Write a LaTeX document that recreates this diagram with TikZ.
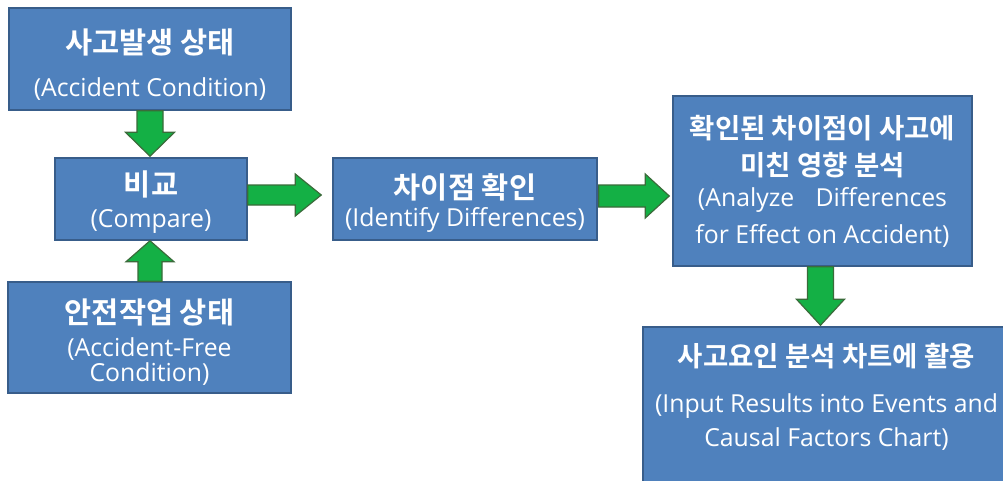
\documentclass[tikz,border=0pt]{standalone}
\usepackage{fontspec}
\usetikzlibrary{calc}
\newfontfamily\kr{Noto Sans CJK KR}[BoldFont=* Bold]
\newfontfamily\en{Open Sans}
\definecolor{boxfill}{HTML}{4F81BD}
\definecolor{boxline}{HTML}{385D8A}
\definecolor{arrowfill}{HTML}{14B045}
\definecolor{arrowline}{HTML}{3A6B3A}
\begin{document}
\begin{tikzpicture}[x=1pt,y=-1pt,
  box/.style={draw=boxline, line width=1.5pt, fill=boxfill, inner sep=0pt},
  kor/.style={text=white, font=\kr\bfseries\fontsize{29.5}{34}\selectfont, anchor=base, inner sep=0pt},
  kors/.style={kor, font=\kr\bfseries\fontsize{27.5}{32}\selectfont},
  eng/.style={text=white, font=\en\fontsize{24.8}{29}\selectfont, anchor=base, inner sep=0pt},
  garrow/.style={fill=arrowfill, draw=arrowline, line width=1.2pt, line join=miter}]
\clip (0,0) rectangle (1003,480);
\fill[white] (0,0) rectangle (1003,480);

% boxes
\node[box, minimum width=282pt, minimum height=102pt] (b1) at (150,59) {};
\node[box, minimum width=192pt, minimum height=82pt]  (b2) at (151,199) {};
\node[box, minimum width=283pt, minimum height=111pt] (b3) at (149.5,337.5) {};
\node[box, minimum width=264pt, minimum height=82pt]  (b4) at (465,199) {};
\node[box, minimum width=299pt, minimum height=170pt] (b5) at (822.5,181) {};
\node[box, minimum width=367pt, minimum height=180pt] (b6) at (826.5,417) {};

% labels
\node[kor] (t1a) at ($(b1.north)+(0,46)$) {사고발생 상태};
\node[eng] (t1b) at ($(b1.north)+(0,89)$) {(Accident Condition)};

\node[kor] (t2a) at ($(b2.north)+(0,38)$) {비교};
\node[eng] (t2b) at ($(b2.north)+(0,70)$) {(Compare)};

\node[kor] (t3a) at ($(b3.north)+(0,42)$) {안전작업 상태};
\node[eng] (t3b) at ($(b3.north)+(0,75)$) {(Accident-Free};
\node[eng] (t3c) at ($(b3.north)+(0,100)$) {Condition)};

\node[kor] (t4a) at ($(b4.north)+(0,41)$) {차이점 확인};
\node[eng] (t4b) at ($(b4.north)+(0,69)$) {(Identify Differences)};

\node[kors] (t5a) at ($(b5.north)+(0,43)$) {확인된 차이점이 사고에};
\node[kors] (t5b) at ($(b5.north)+(0,80)$) {미친 영향 분석};
\node[eng] (t5c) at ($(b5.north)+(0,111)$) {(Analyze\hspace{0.6em} Differences};
\node[eng] (t5d) at ($(b5.north)+(0,148)$) {for Effect on Accident)};

\node[kors] (t6a) at ($(b6.north)+(0,40)$) {사고요인 분석 차트에 활용};
\node[eng] (t6b) at ($(b6.north)+(0,86)$) {(Input Results into Events and};
\node[eng] (t6c) at ($(b6.north)+(0,120)$) {Causal Factors Chart)};

% block arrows
% accident condition -> compare
\coordinate (a1s) at (b1.south);
\coordinate (a1t) at ($(b1.south |- b2.north)+(0,-1)$);
\draw[garrow] ($(a1s)+(-13,0)$) -- ($(a1t)+(-13,-24)$) -- ($(a1t)+(-24.5,-24)$) -- (a1t)
  -- ($(a1t)+(24.5,-24)$) -- ($(a1t)+(13,-24)$) -- ($(a1s)+(13,0)$) -- cycle;

% accident-free condition -> compare
\coordinate (a2s) at ($(b3.north)+(0.5,0)$);
\coordinate (a2t) at ($(b3.north |- b2.south)+(0.5,0)$);
\draw[garrow] ($(a2s)+(-12,0)$) -- ($(a2t)+(-12,21)$) -- ($(a2t)+(-24,21)$) -- (a2t)
  -- ($(a2t)+(24,21)$) -- ($(a2t)+(12,21)$) -- ($(a2s)+(12,0)$) -- cycle;

% compare -> identify differences
\coordinate (a3s) at ($(b2.east)+(0,-4)$);
\coordinate (a3t) at ($(b4.west |- a3s)+(-11,0)$);
\draw[garrow] ($(a3s)+(0,-10)$) -- ($(a3t)+(-26,-10)$) -- ($(a3t)+(-26,-21)$) -- (a3t)
  -- ($(a3t)+(-26,21)$) -- ($(a3t)+(-26,10)$) -- ($(a3s)+(0,10)$) -- cycle;

% identify differences -> analyze
\coordinate (a4s) at ($(b4.east)+(1,-3)$);
\coordinate (a4t) at ($(b5.west |- a4s)+(-3,0)$);
\draw[garrow] ($(a4s)+(0,-11)$) -- ($(a4t)+(-24,-11)$) -- ($(a4t)+(-24,-22)$) -- (a4t)
  -- ($(a4t)+(-24,22)$) -- ($(a4t)+(-24,11)$) -- ($(a4s)+(0,11)$) -- cycle;

% analyze -> chart
\coordinate (a5s) at ($(b5.south)+(-2,0)$);
\coordinate (a5t) at ($(b5.south |- b6.north)+(-2,-1)$);
\draw[garrow] ($(a5s)+(-13,0)$) -- ($(a5t)+(-13,-26)$) -- ($(a5t)+(-24,-26)$) -- (a5t)
  -- ($(a5t)+(24,-26)$) -- ($(a5t)+(13,-26)$) -- ($(a5s)+(13,0)$) -- cycle;
\end{tikzpicture}
\end{document}
